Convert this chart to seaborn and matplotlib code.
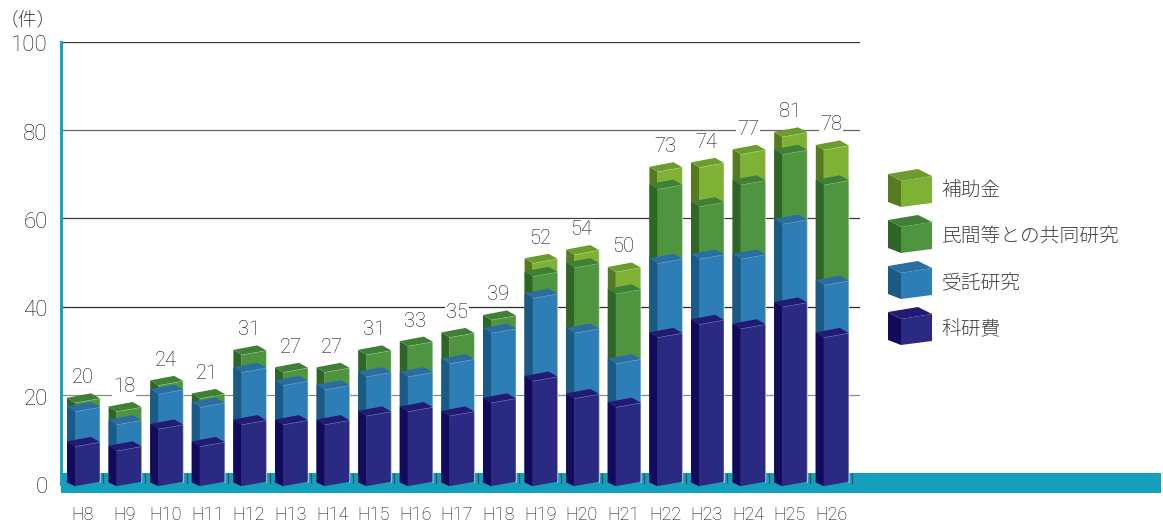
import numpy as np
import matplotlib
matplotlib.use("Agg")
import matplotlib.pyplot as plt
from matplotlib.patches import Polygon, Rectangle
from matplotlib.transforms import Affine2D, IdentityTransform
import seaborn as sns

# Research funding cases per fiscal year (件)
years = ["H8", "H9", "H10", "H11", "H12", "H13", "H14", "H15", "H16", "H17",
         "H18", "H19", "H20", "H21", "H22", "H23", "H24", "H25", "H26"]
kakenhi = [10, 9, 14, 10, 15, 15, 15, 17, 18, 17, 20, 25, 21, 19, 35, 38, 37, 42, 35]
jutaku = [8, 6, 8, 9, 12, 9, 8, 9, 8, 12, 16, 19, 15, 10, 17, 15, 16, 19, 12]
minkan = [2, 3, 2, 2, 4, 3, 4, 5, 7, 6, 3, 5, 15, 16, 17, 12, 17, 16, 23]
hojo = [0, 0, 0, 0, 0, 0, 0, 0, 0, 0, 0, 3, 3, 5, 4, 9, 7, 4, 8]
totals = [20, 18, 24, 21, 31, 27, 27, 31, 33, 35, 39, 52, 54, 50, 73, 74, 77, 81, 78]
yticks = [0, 20, 40, 60, 80, 100]
grid_colors = {20: "#8a8a8a", 40: "#2a2a2a", 60: "#3a3a3a", 80: "#666666", 100: "#333333"}

series_names = ["補助金", "民間等との共同研究", "受託研究", "科研費"]
series_values = [hojo, minkan, jutaku, kakenhi]
# front, side, top face colours of each box
series_colors = [("#7fb135", "#557a1f", "#6c9c2b"),
                 ("#4f9540", "#2d6626", "#3f8036"),
                 ("#2d7db6", "#1a5a86", "#2a6da3"),
                 ("#2b2a82", "#130a5c", "#221b74")]

sns.set_theme(style="white")
LATIN = ["Roboto", "Liberation Sans"]
CJK = ["Noto Sans CJK JP", "DejaVu Sans"]
plt.rcParams["font.family"] = LATIN
plt.rcParams["font.weight"] = "light"
INK = "#101010"

W, H = 1163, 524
fig = plt.figure(figsize=(W / 100, H / 100), dpi=100, facecolor="white")
ax_left, ax_right, ax_top, ax_bottom = 61, 860, 41.5, 483.5
ax = fig.add_axes([ax_left / W, 1 - ax_bottom / H,
                   (ax_right - ax_left) / W, (ax_bottom - ax_top) / H])

STEP = 41.6           # pixels between categories
FRONT_W = 25.0        # width of a front face, pixels
DEPTH_X, DEPTH_Y = 8.0, 5.0   # oblique offset of the side faces
BACK_X, BACK_Y = 16.0, 9.5    # apex of the top face from the front-left corner
RISE = 4.4            # rise of a front edge from left to right
FOOT = 0.9            # value at which the bars meet the floor
SHIFT = 5.0           # front faces sit right of the category centre

cum = np.cumsum(np.array(series_values[::-1]), axis=0)[::-1]

for layer, (vals, top, cols) in enumerate(zip(series_values, cum, series_colors)):
    sns.barplot(x=years, y=top, order=years, color=cols[0], saturation=1,
                width=FRONT_W / STEP, ax=ax, legend=False, linewidth=0)
ax.set_xlim(-(82.5 - ax_left) / STEP, (ax_right - 82.5) / STEP)
ax.set_ylim(0, 100)
fig.canvas.draw()

y_scale = 4.36 / 4.42
for layer, (vals, top, cols, cont) in enumerate(
        zip(series_values, cum, series_colors, ax.containers)):
    z = 5 + layer
    for val, v, bar in zip(vals, top, cont.patches):
        if val == 0:
            bar.set_visible(False)
            continue
        bar.set_y(FOOT)
        bar.set_height(v - FOOT)
        xl_disp = ax.transData.transform((bar.get_x(), 0))[0] + SHIFT
        slope = RISE / FRONT_W
        proj = (Affine2D().translate(SHIFT, -(H - ax_bottom)).scale(1, y_scale)
                .translate(0, H - 490)
                + Affine2D(np.array([[1, 0, 0],
                                     [slope, 1, -slope * xl_disp],
                                     [0, 0, 1]])))
        to_disp = ax.transData + proj
        bar.set_transform(to_disp)
        bar.set_zorder(z)
        bar.set_clip_on(False)
        fl_top = to_disp.transform((bar.get_x(), v))
        fl_low = to_disp.transform((bar.get_x(), FOOT))
        fr_top = fl_top + (FRONT_W, RISE)
        fr_low = fl_low + (FRONT_W, RISE - 0.8)
        side = [fl_top, fl_low, fl_low + (-DEPTH_X, RISE - 0.6),
                fl_top + (-DEPTH_X, DEPTH_Y)]
        lid = [fl_top, fr_top, fl_top + (BACK_X, BACK_Y),
               fl_top + (-DEPTH_X, DEPTH_Y)]
        ax.add_patch(Polygon(side, closed=True, fc=cols[1], ec="none",
                             transform=IdentityTransform(), zorder=z, clip_on=False))
        ax.add_patch(Polygon(lid, closed=True, fc=cols[2], ec="none",
                             transform=IdentityTransform(), zorder=z + 0.1, clip_on=False))
        # pale highlight along the lit edges of the box
        ax.add_patch(Polygon([fl_top, fr_top, fr_low], closed=False, fc="none",
                             ec=(1, 1, 1, 0.4), lw=0.7,
                             transform=IdentityTransform(), zorder=z + 0.05, clip_on=False))

# Floor band and the category separators printed on it
ax.add_patch(Rectangle((0, (ax_bottom - 493) / 4.42), (1161 - ax_left) / (ax_right - ax_left),
                       20 / 4.42, transform=ax.get_yaxis_transform(), fc="#149fbd",
                       ec="none", clip_on=False, zorder=2))
for i in range(1, len(years) + 1):
    ax.plot([i - 0.5, i - 0.5], [0, 2.4], color="#3c4a4e", lw=0.9, zorder=3,
            solid_capstyle="butt")

# Axes dressing
for s in ("top", "right", "bottom"):
    ax.spines[s].set_visible(False)
ax.spines["left"].set_color("#12a0c4")
ax.spines["left"].set_linewidth(2.1)
ax.spines["left"].set_zorder(2)
ax.set_yticks(yticks)
ax.yaxis.grid(True, lw=0.9, zorder=1)
ax.set_axisbelow(True)
ax.xaxis.grid(False)
ax.set_xticks(range(len(years)))
ax.set_xticklabels(years)
ax.set_xlabel("")
ax.set_ylabel("")
ax.tick_params(axis="x", length=0, pad=16, labelsize=13)
ax.tick_params(axis="y", length=0, pad=9.5, labelsize=16)
for lab in ax.get_xticklabels() + ax.get_yticklabels():
    lab.set_color(INK)
for tick_value, line in zip(yticks, ax.get_ygridlines()):
    if tick_value == 0:
        line.set_visible(False)
    else:
        line.set_color(grid_colors[tick_value])
for lab in ax.get_yticklabels():
    lab.set_transform(lab.get_transform() + Affine2D().translate(0, -1.8))

# Totals above each stack
for i, total in enumerate(totals):
    y_px = 490 - 4.36 * total - 9.5 - 15.5
    x_px = ax.transData.transform((i, 0))[0]
    fig.text(x_px / W, 1 - y_px / H, str(total), ha="center", va="center",
             fontsize=14.5, color=INK, zorder=20,
             bbox=dict(fc="white", ec="none", pad=0.6))

fig.text(0 / W, 1 - 20 / H, "（件）", ha="left", va="center", fontsize=13.5,
         color="#444444", family=CJK, weight="light")

# Key: small boxes with their series names
for k, (name, cols) in enumerate(zip(series_names, series_colors)):
    dy = 46 * k
    fl_t = np.array([901, H - (181 + dy)], float)
    fl_b = np.array([901, H - (207 + dy)], float)
    fr_t = fl_t + (31, 5)
    fr_b = fl_b + (31, 4)
    lft_t = fl_t + (-13, 7)
    lft_b = fl_b + (-13, 5)
    bk = fr_t + (-14, 7)
    for pts, c in (([fl_t, fr_t, fr_b, fl_b], cols[0]),
                   ([fl_t, fl_b, lft_b, lft_t], cols[1]),
                   ([fl_t, fr_t, bk, lft_t], cols[2])):
        fig.add_artist(Polygon(pts, closed=True, fc=c, ec="none",
                               transform=IdentityTransform()))
    fig.text(941.5 / W, 1 - (191.5 + dy) / H, name, ha="left", va="center",
             fontsize=14.2, color="#444444", family=CJK, weight="light")

fig.savefig("out.png", dpi=100)
